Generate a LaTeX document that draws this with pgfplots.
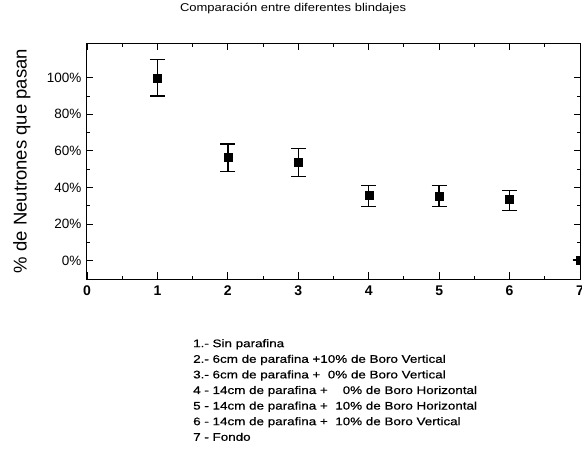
\documentclass[border=0pt]{standalone}
\usepackage{pgfplots}
\pgfplotsset{compat=1.18}
\usepackage{fontspec}
\setmainfont{Liberation Sans}
\newfontfamily\legfont{Liberation Sans}[FakeStretch=1.22,FakeBold=0.6]
\newfontfamily\titfont{Liberation Sans}[FakeStretch=1.15]
\begin{document}
\begin{tikzpicture}
\path[use as bounding box] (0pt,0pt) rectangle (582pt,467pt);
\begin{axis}[
  at={(87pt,188pt)}, anchor=south west,
  scale only axis, width=493pt, height=236pt,
  xmin=0, xmax=7, ymin=-10, ymax=119,
  clip marker paths=true,
  xtick={0,1,2,3,4,5,6,7},
  ytick={0,20,40,60,80,100},
  yticklabels={0\%,20\%,40\%,60\%,80\%,100\%},
  minor x tick num=1, minor y tick num=1,
  tick align=inside, tickpos=both,
  major tick length=6.5pt, minor tick length=3.5pt,
  every tick/.style={black, line width=0.9pt},
  axis line style={line width=1pt},
  /pgf/number format/assume math mode=true,
  xticklabel style={font=\fontsize{14}{16}\selectfont\bfseries, yshift=-3pt},
  yticklabel style={font=\fontsize{13.5}{15}\selectfont, xshift=-2pt},
  title={\titfont Comparación entre diferentes blindajes},
  title style={at={(axis description cs:0.418,1.119)}, anchor=center, font=\fontsize{11.3}{13}\selectfont},
  ylabel={\% de Neutrones que pasan},
  ylabel style={at={(axis description cs:-0.132,0.5)}, rotate=0, anchor=center, font=\fontsize{18.5}{20}\selectfont},
]
\addplot[only marks, mark=square*, mark size=4pt, black,
  error bars/.cd, y dir=both, y explicit,
  error bar style={line width=1.3pt, black},
  error mark options={line width=1.3pt, mark size=7.5pt, rotate=90}]
  table[x=x, y=y, y error plus=ep, y error minus=em] {
x y ep em
1 100 10 10
2 56.6 7.2 8.0
3 54.0 7.2 7.9
4 35.7 5.3 6.2
5 35.4 5.6 5.9
6 33.7 4.6 6.4
7 0.4 0 0
};
\end{axis}
\node[anchor=north west, align=left, inner sep=0pt, font=\legfont\fontsize{11}{15.6}\selectfont] at (193pt,467pt-339pt) {%
1.- Sin parafina\\
2.- 6cm de parafina +10\% de Boro Vertical\\
3.- 6cm de parafina +\ \ 0\% de Boro Vertical\\
4 - 14cm de parafina +\ \ \ \ 0\% de Boro Horizontal\\
5 - 14cm de parafina +\ \ 10\% de Boro Horizontal\\
6 - 14cm de parafina +\ \ 10\% de Boro Vertical\\
7 - Fondo};
\end{tikzpicture}
\end{document}
